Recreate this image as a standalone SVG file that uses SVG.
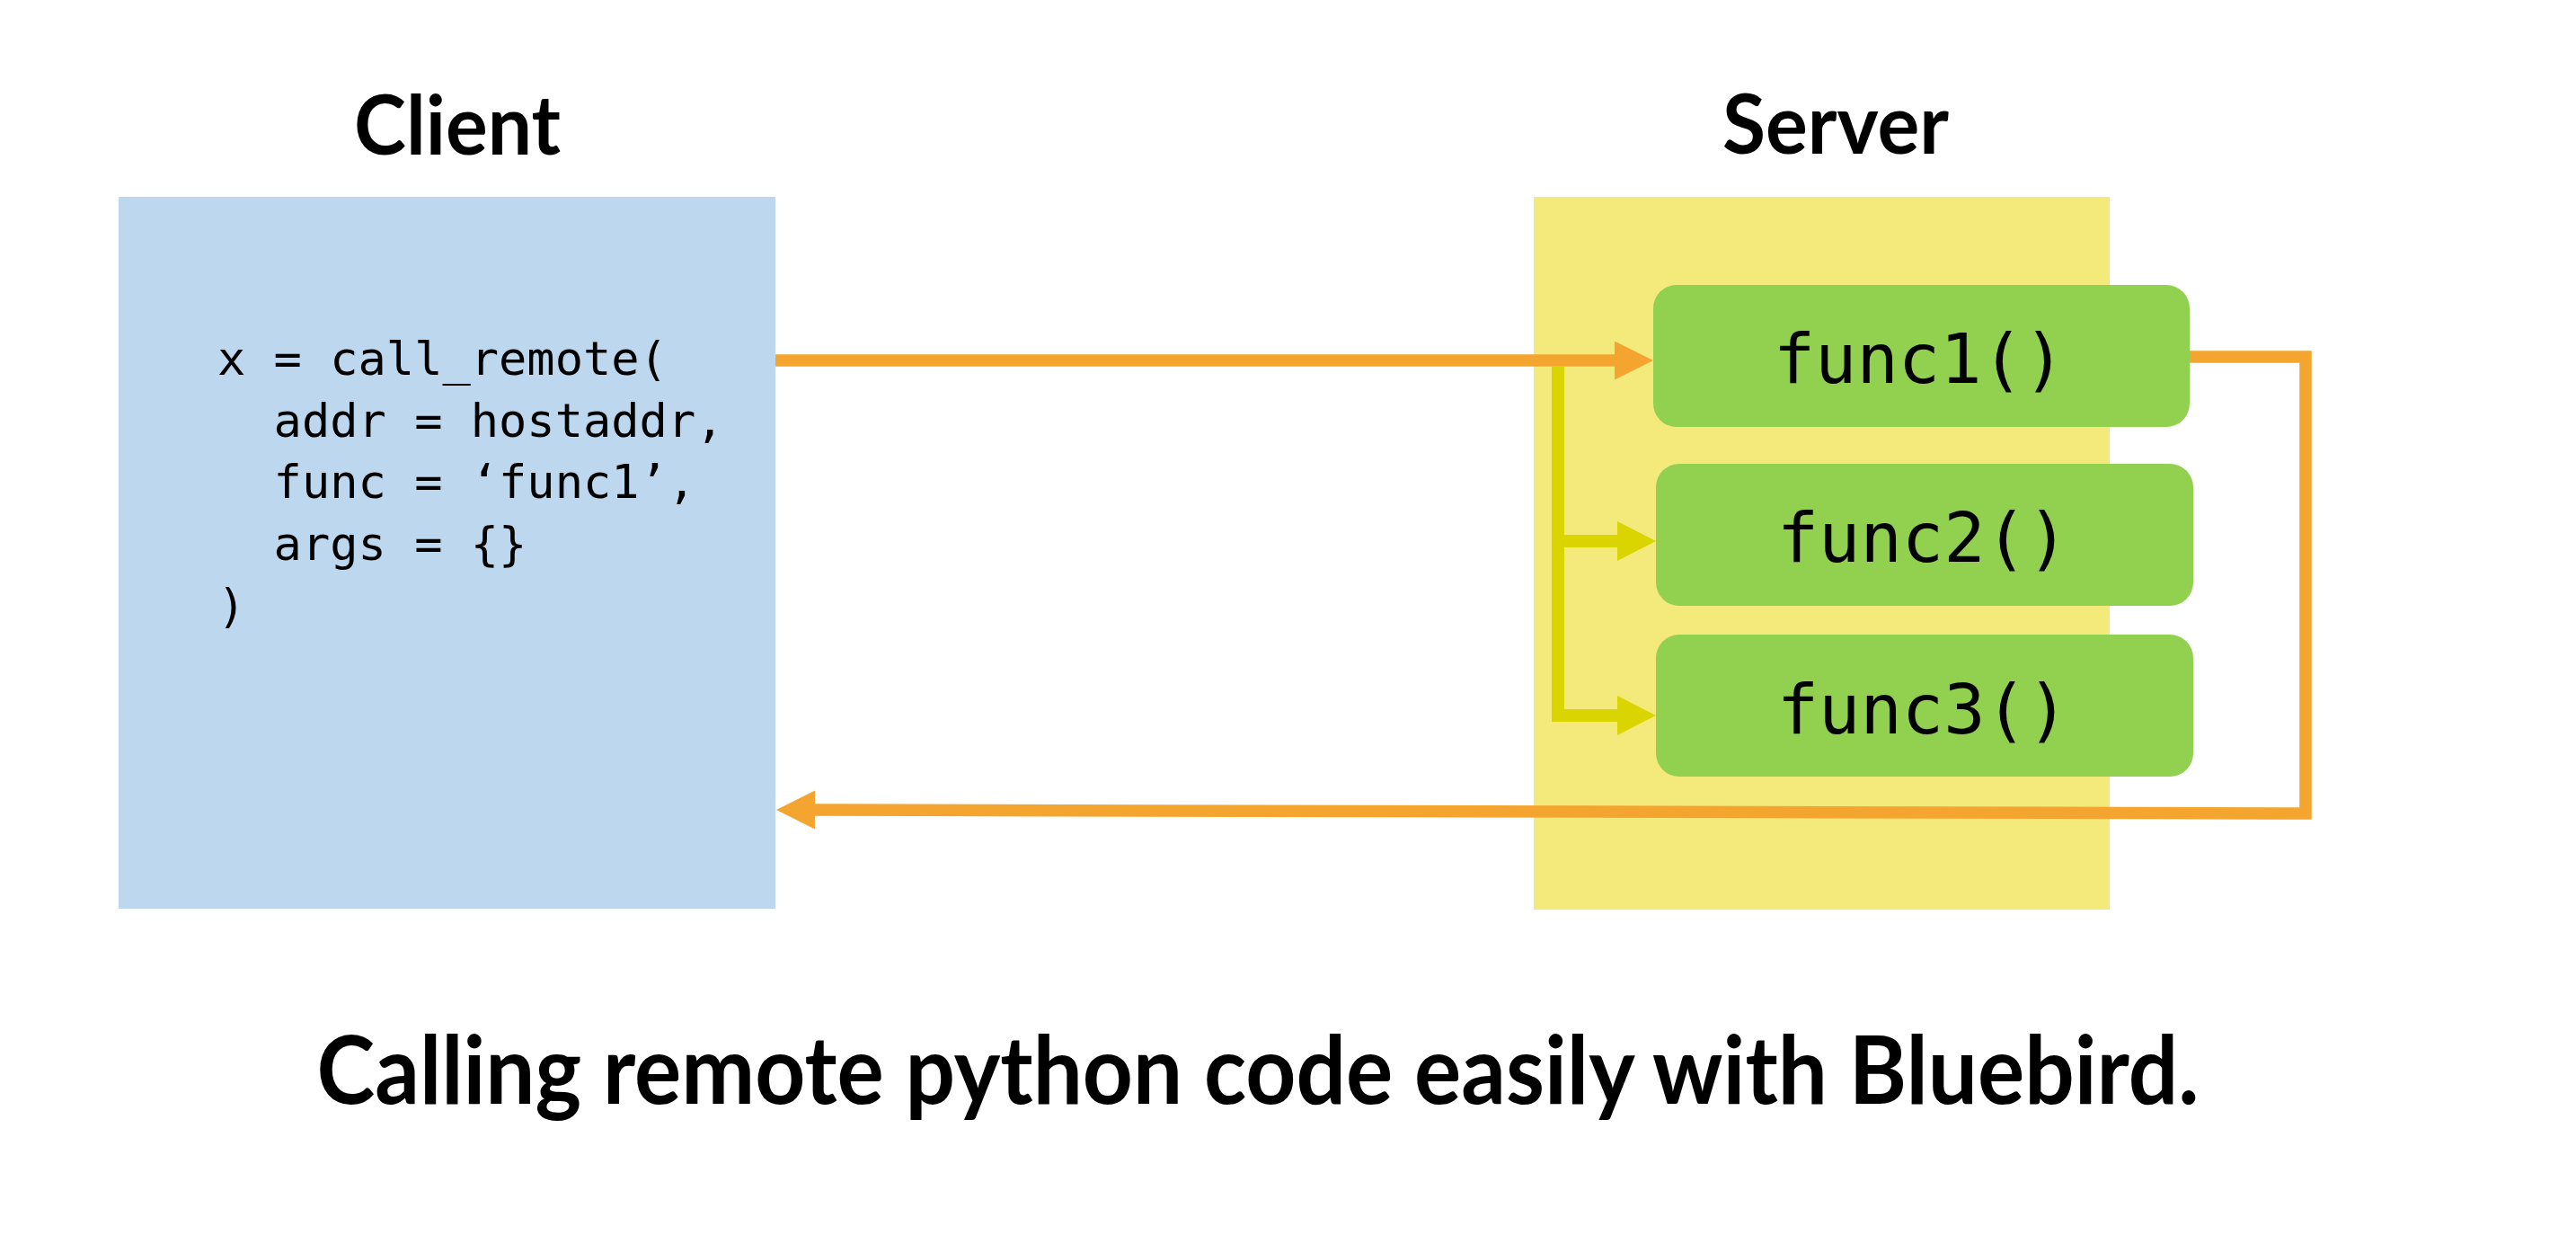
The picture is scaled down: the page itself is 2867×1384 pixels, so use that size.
<svg xmlns="http://www.w3.org/2000/svg" width="2867" height="1384" viewBox="0 0 2867 1384">
  <style>
    .title { font-family: "Lato", "Open Sans", sans-serif; font-weight: 700; font-size: 92px; fill: #000; text-anchor: middle; }
    .code { font-family: "DejaVu Sans Mono", "Liberation Mono", monospace; font-size: 52px; fill: #000; white-space: pre; }
    .func { font-family: "DejaVu Sans Mono", "Liberation Mono", monospace; font-size: 77px; fill: #000; text-anchor: middle; }
    .caption { font-family: "Lato", "Open Sans", sans-serif; font-weight: 700; font-size: 106px; fill: #000; text-anchor: middle; }
    .fnbox { fill: #92D050; }
    .orange { fill: none; stroke: #F4A530; stroke-width: 13.5; stroke-linejoin: miter; }
    .yellow { fill: none; stroke: #DAD400; stroke-width: 14; stroke-linejoin: miter; }
  </style>
  <defs>
    <marker id="ahO" viewBox="0 0 43 43" refX="0" refY="21.5" markerWidth="43" markerHeight="43" markerUnits="userSpaceOnUse" orient="auto">
      <path d="M0,0 L43,21.5 L0,43 Z" fill="#F4A530"/>
    </marker>
    <marker id="ahY" viewBox="0 0 43 44" refX="0" refY="22" markerWidth="43" markerHeight="44" markerUnits="userSpaceOnUse" orient="auto">
      <path d="M0,0 L43,22 L0,44 Z" fill="#DAD400"/>
    </marker>
  </defs>
  <rect width="2867" height="1384" fill="#FFFFFF"/>

  <g id="client">
    <text class="title" x="509" y="172" textLength="230" lengthAdjust="spacingAndGlyphs">Client</text>
    <rect x="132" y="219" width="731" height="792" fill="#BDD7EE"/>
    <text class="code" x="242" y="417">x = call_remote(</text>
    <text class="code" x="242" y="486">  addr = hostaddr,</text>
    <text class="code" x="242" y="554">  func = ‘func1’,</text>
    <text class="code" x="242" y="623">  args = {}</text>
    <text class="code" x="242" y="692">)</text>
  </g>

  <g id="server">
    <text class="title" x="2043" y="171" textLength="252" lengthAdjust="spacingAndGlyphs">Server</text>
    <rect x="1707" y="219" width="641" height="793" fill="#F4E97B"/>
  </g>

  <g id="func1">
    <rect class="fnbox" x="1840" y="317" width="597" height="158" rx="26" ry="26"/>
    <text class="func" x="2136" y="426">func1()</text>
  </g>
  <g id="func2">
    <rect class="fnbox" x="1843" y="516" width="598" height="158" rx="26" ry="26"/>
    <text class="func" x="2140" y="625">func2()</text>
  </g>
  <g id="func3">
    <rect class="fnbox" x="1843" y="706" width="598" height="158" rx="26" ry="26"/>
    <text class="func" x="2140" y="816">func3()</text>
  </g>

  <g id="connectors">
    <path class="yellow" d="M1734,408 V796 H1800" marker-end="url(#ahY)"/>
    <path class="yellow" d="M1734,602 H1800" marker-end="url(#ahY)"/>
    <path class="orange" d="M863,401 H1797" marker-end="url(#ahO)"/>
    <path class="orange" d="M2437,397 H2566 V905 L907,901" marker-end="url(#ahO)"/>
  </g>

  <g id="caption">
    <text class="caption" x="1400" y="1228" textLength="2095" lengthAdjust="spacingAndGlyphs">Calling remote python code easily with Bluebird.</text>
  </g>
</svg>
